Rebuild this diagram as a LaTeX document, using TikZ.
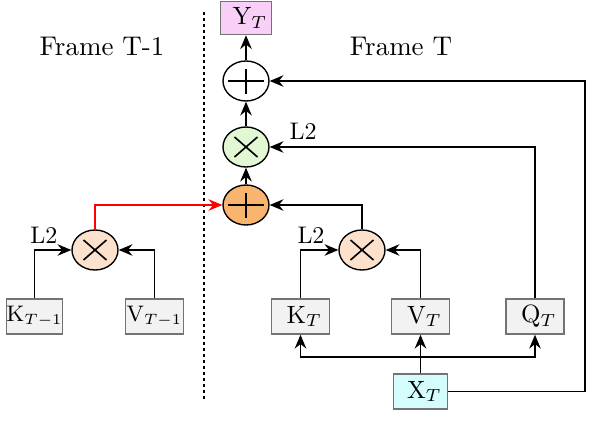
\documentclass[tikz,border=0pt]{standalone}
\usetikzlibrary{arrows.meta,shapes.geometric}
\definecolor{boxfill}{RGB}{242,242,242}
\definecolor{boxdraw}{RGB}{115,115,115}
\definecolor{pinkfill}{RGB}{247,207,247}
\definecolor{cyanfill}{RGB}{212,252,253}
\definecolor{greenfill}{RGB}{226,247,211}
\definecolor{orangefill}{RGB}{249,180,112}
\definecolor{peachfill}{RGB}{252,226,204}
\begin{document}
\begin{tikzpicture}[x=0.4pt,y=-0.4pt,
  box/.style={draw=boxdraw, fill=boxfill, line width=0.6pt, minimum width=23.2pt, minimum height=14pt, inner sep=0pt, font=\fontsize{9.6}{10}\selectfont},
  smallbox/.style={box, font=\fontsize{8.8}{10}\selectfont},
  op/.style={draw, ellipse, line width=0.55pt, minimum width=18.4pt, minimum height=16pt, inner sep=0pt},
  plus/.style={op, path picture={\draw[line width=0.65pt] ([xshift=-7.2pt]path picture bounding box.center) -- ++(14.4pt,0pt) ([yshift=-5pt]path picture bounding box.center) -- ++(0pt,10pt);}},
  times/.style={op, path picture={\draw[line width=0.65pt] ([shift={(-4.6pt,-4pt)}]path picture bounding box.center) -- ++(9.2pt,8pt) ([shift={(-4.6pt,4pt)}]path picture bounding box.center) -- ++(9.2pt,-8pt);}},
  arr/.style={-{Stealth[length=5.5pt,width=4.6pt]}, line width=0.6pt},
  lbl/.style={font=\fontsize{9.6}{10}\selectfont, inner sep=0pt},
  frame/.style={font=\fontsize{10.8}{12}\selectfont, inner sep=0pt}
]
\useasboundingbox (0,0) rectangle (595,427);

% dashed separator
\draw[line width=0.6pt, dash pattern=on 1.2pt off 1.2pt] (204,12) -- (204,400);

% titles
\node[frame] (f1) at (102,46) {Frame T-1};
\node[frame] (f2) at (401,46) {Frame T};

% operators
\node[box, fill=pinkfill, minimum width=20.4pt, minimum height=13.2pt] (Y) at (246,18) {\hspace{3pt}$\mathrm{Y}_T$};
\node[plus, fill=white] (add2) at (246,81) {};
\node[times, fill=greenfill] (mul2) at (246,147) {};
\node[plus, fill=orangefill] (add1) at (246,205) {};
\node[times, fill=peachfill] (mulR) at (362,250) {};
\node[times, fill=peachfill] (mulL) at (95,250) {};

% boxes
\node[box] (K) at (300.5,316.5) {\hspace{3pt}$\mathrm{K}_T$};
\node[box] (V) at (420.5,316.5) {\hspace{3pt}$\mathrm{V}_T$};
\node[box] (Q) at (535,316.5) {\hspace{3pt}$\mathrm{Q}_T$};
\node[box, fill=cyanfill, minimum width=21.6pt] (X) at (420.5,391.5) {\hspace{3pt}$\mathrm{X}_T$};
\node[smallbox, minimum width=22pt] (Kp) at (34.5,316.5) {$\mathrm{K}_{T-1}$};
\node[smallbox] (Vp) at (154.5,316.5) {$\mathrm{V}_{T-1}$};

% labels
\node[lbl] (l1) at (44,235) {L2};
\node[lbl] (l2) at (311,235) {L2};
\node[lbl] (l3) at (303,131) {L2};

% coordinates
\coordinate (cR) at (585,81);
\coordinate (bus) at (420.5,357);

% connectors
\draw[arr] (add2) -- (Y);
\draw[arr] (mul2) -- (add2);
\draw[arr] (add1) -- (mul2);
\draw[arr] (X.east) -| (cR) -- (add2.east);
\draw[arr] (Q.north) |- (mul2.east);
\draw[arr] (mulR.north) |- (add1.east);
\draw[arr] (K.north) |- (mulR.west);
\draw[arr] (V.north) |- (mulR.east);
\draw[arr] (X.north) -- (V.south);
\draw[arr] (bus) -| (K.south);
\draw[arr] (bus) -| (Q.south);
\draw[arr] (Kp.north) |- (mulL.west);
\draw[arr] (Vp.north) |- (mulL.east);
\draw[arr, red] (mulL.north) |- (add1.west);
\end{tikzpicture}
\end{document}
